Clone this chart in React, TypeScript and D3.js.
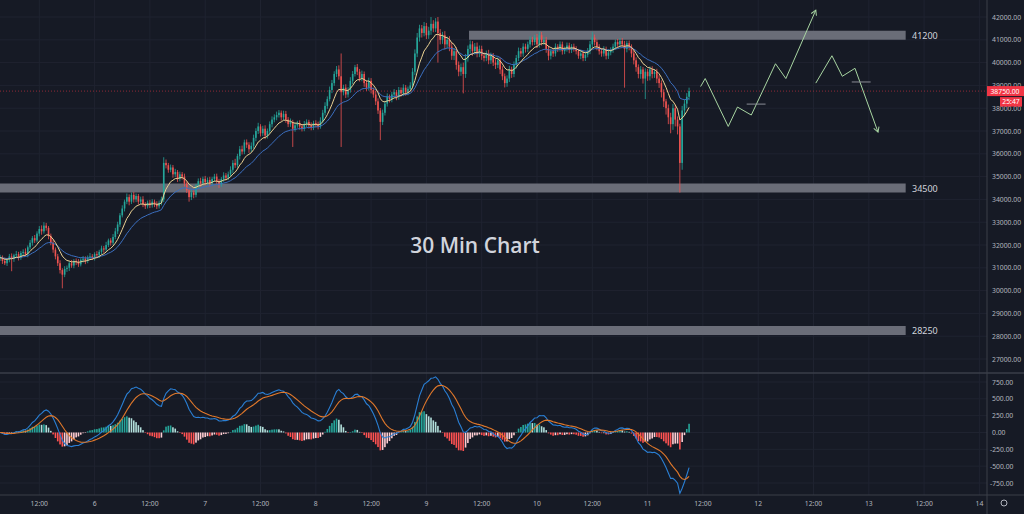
import * as d3 from 'd3';

// 30 min candles, first one at 5 Jan 03:30 UTC; open = previous close
const firstOpen = 31400;
const closes = [
  31450, 31300, 31200, 31350, 31500, 31400, 31550, 31600, 31450, 31650,
  31700, 31600, 31900, 32100, 32300, 32200, 32500, 32700, 32600, 32850,
  32750, 32400, 32100, 31800, 31500, 31200, 30900, 30700, 30950, 31000,
  31200, 31100, 31300, 31250, 31150, 31350, 31400, 31300, 31450, 31500,
  31450, 31600, 31550, 31700, 31850, 31800, 32000, 32200, 32100, 32350,
  32600, 32900, 33300, 33600, 33900, 34100, 33900, 34200, 34000, 34150,
  33900, 34000, 33800, 33700, 33850, 33750, 33900, 33800, 33700, 33850,
  34000, 35600, 35500, 35300, 35400, 35100, 35200, 34900, 35100, 35000,
  34700, 34400, 34100, 34300, 34200, 34600, 34800, 34700, 34900, 34750,
  34850, 34700, 34900, 35000, 34800, 34650, 34900, 35050, 34950, 35100,
  35300, 35600, 35500, 35900, 36200, 36100, 36500, 36400, 36200, 36350,
  36700, 37000, 37200, 36900, 37100, 36800, 37000, 37300, 37500, 37600,
  37700, 37800, 37600, 37750, 37500, 37300, 37400, 37100, 37250, 37350,
  37200, 37100, 37300, 37400, 37250, 37150, 37350, 37300, 37200, 37450,
  37800, 38100, 38400, 38800, 39100, 39500, 39700, 39400, 38700, 38900,
  38600, 38800, 39200, 39500, 39800, 39600, 39300, 39500, 39100, 38900,
  39200, 38800, 38600, 38300, 37900, 37400, 37800, 38200, 38500, 38400,
  38600, 38700, 38500, 38800, 38650, 38900, 38700, 38850, 39000, 39600,
  40400, 41100, 41500, 41300, 41600, 41200, 41400, 41700, 41500, 41800,
  41300, 41000, 41200, 40800, 41000, 40700, 40300, 40500, 39900, 39600,
  39800, 39500, 40200, 40600, 40800, 40500, 40700, 40400, 40600, 40300,
  40200, 40400, 40100, 40300, 40000, 39900, 40100, 39700, 39400, 39100,
  39300, 39700, 39500, 39900, 40200, 40500, 40400, 40700, 40600, 40800,
  41000, 40900, 41100, 40800, 41200, 40900, 41000, 40600, 40300, 40500,
  40400, 40700, 40600, 40800, 40500, 40600, 40750, 40550, 40700, 40600,
  40500, 40300, 40400, 40200, 40350, 40500, 40800, 41100, 40900, 40700,
  40500, 40400, 40600, 40300, 40450, 40550, 40700, 40900, 40800, 40950,
  40800, 40600, 40850, 40700, 40400, 40100, 39800, 39500, 39700, 39300,
  39600, 39400, 39700, 39500, 39600, 39300, 39100, 38700, 38300, 38000,
  37600, 37300, 38000, 37500, 37200, 35600, 37900, 38200, 38500, 38750,
];
// wick length above / below the body
const wickUp = [
  120, 90, 150, 80, 110, 130, 70, 140, 100, 90,
  110, 150, 80, 120, 90, 140, 100, 130, 160, 150,
  120, 80, 100, 150, 90, 110, 130, 80, 120, 100,
  90, 140, 80, 110, 130, 70, 120, 100, 90, 150,
  100, 80, 130, 90, 120, 110, 140, 80, 100, 130,
  150, 120, 100, 140, 90, 160, 120, 100, 130, 110,
  90, 120, 140, 80, 100, 130, 110, 90, 120, 100,
  120, 250, 150, 100, 130, 110, 140, 90, 120, 100,
  130, 90, 110, 140, 100, 80, 120, 150, 100, 130,
  110, 140, 90, 120, 130, 100, 80, 140, 110, 120,
  150, 120, 180, 100, 140, 160, 120, 130, 110, 150,
  140, 120, 160, 100, 130, 150, 110, 120, 140, 130,
  150, 120, 100, 140, 130, 110, 150, 90, 120, 100,
  120, 100, 140, 110, 90, 130, 100, 120, 110, 150,
  130, 160, 120, 150, 140, 120, 150, 180, 1000, 130,
  150, 120, 160, 130, 100, 140, 120, 150, 110, 130,
  140, 120, 100, 150, 130, 110, 140, 120, 150, 100,
  120, 140, 100, 130, 110, 150, 120, 100, 140, 160,
  180, 200, 160, 150, 180, 140, 170, 300, 160, 150,
  200, 170, 150, 180, 140, 160, 180, 140, 170, 150,
  160, 200, 180, 150, 170, 140, 160, 180, 150, 140,
  150, 130, 160, 140, 120, 150, 130, 110, 140, 120,
  140, 160, 120, 150, 130, 160, 140, 150, 130, 120,
  150, 130, 120, 160, 150, 140, 120, 130, 150, 110,
  120, 140, 110, 130, 120, 100, 130, 120, 110, 130,
  120, 100, 130, 110, 120, 140, 150, 250, 130, 120,
  110, 130, 120, 100, 140, 120, 130, 110, 140, 130,
  130, 150, 110, 120, 100, 140, 130, 120, 150, 110,
  150, 120, 130, 140, 110, 130, 150, 120, 130, 110,
  160, 200, 180, 150, 140, 120, 200, 180, 160, 150,
];
const wickDown = [
  100, 130, 80, 120, 110, 550, 140, 110, 130, 100,
  120, 90, 140, 100, 130, 110, 90, 120, 150, 100,
  120, 150, 110, 140, 130, 120, 150, 600, 110, 130,
  140, 100, 120, 130, 110, 90, 120, 140, 100, 110,
  110, 130, 90, 120, 100, 140, 110, 90, 130, 100,
  100, 120, 110, 90, 130, 110, 160, 100, 140, 120,
  130, 110, 140, 120, 100, 130, 110, 140, 120, 100,
  110, 120, 140, 130, 110, 150, 120, 140, 110, 130,
  140, 120, 200, 130, 150, 110, 120, 140, 100, 130,
  120, 140, 110, 130, 120, 150, 100, 130, 120, 110,
  100, 140, 120, 110, 150, 130, 120, 140, 160, 130,
  120, 150, 130, 140, 120, 160, 130, 110, 140, 120,
  130, 110, 150, 120, 140, 130, 120, 800, 130, 110,
  140, 120, 110, 130, 150, 120, 110, 140, 130, 100,
  110, 120, 130, 100, 140, 120, 130, 150, 2400, 140,
  150, 130, 120, 140, 110, 150, 130, 120, 160, 140,
  130, 150, 140, 160, 150, 800, 140, 120, 130, 150,
  140, 120, 150, 130, 140, 120, 150, 130, 120, 140,
  150, 160, 180, 200, 150, 170, 160, 180, 170, 160,
  1300, 200, 180, 220, 170, 200, 180, 190, 210, 200,
  180, 850, 170, 160, 180, 200, 150, 170, 160, 180,
  150, 140, 170, 160, 150, 180, 140, 200, 170, 190,
  160, 150, 170, 140, 160, 130, 150, 140, 160, 130,
  140, 150, 130, 160, 140, 150, 130, 170, 200, 160,
  150, 130, 140, 120, 150, 130, 120, 140, 130, 120,
  140, 130, 150, 140, 130, 120, 130, 140, 150, 160,
  150, 140, 130, 160, 140, 130, 120, 140, 130, 120,
  140, 1700, 150, 160, 170, 180, 200, 190, 210, 220,
  900, 200, 180, 190, 170, 200, 210, 230, 250, 280,
  300, 400, 250, 300, 350, 1300, 300, 250, 200, 150,
];

const priceTicks = d3.range(27000, 42001, 1000);
const macdTicks = [-750, -500, -250, 0, 250, 500, 750];
// horizontal levels, drawn from the given time to the right
const zones = [
  { price: 41200, from: Date.UTC(2021, 0, 9, 9, 15) },
  { price: 34500, from: Date.UTC(2021, 0, 4, 20) },
  { price: 28250, from: Date.UTC(2021, 0, 4, 20) },
];
const zoneEnd = Date.UTC(2021, 0, 13, 8, 0);
const lastPrice = 38750;
const countdown = '25:47';
// drawn forecast: [hours after 11 Jan 00:00, price]
const forecastA: [number, number][] = [
  [11.5, 38950], [12.5, 39300], [17.5, 37200], [19.5, 38050], [22.5, 37700],
  [27.75, 39950], [30, 39300], [36.5, 42300],
];
const forecastB: [number, number][] = [
  [36.5, 39100], [40, 40300], [42.25, 39400], [45, 39750], [50, 36950],
];
const forecastMarks: [number, number, number][] = [
  [21.5, 25.6, 38180],
  [44.3, 48.4, 39150],
];

const W = 1024;
const H = 514;
const AXIS_X = 987;
const PANE_SPLIT = 373;
const TIME_AXIS_Y = 495;
const HOUR = 3600 * 1000;
const t0 = Date.UTC(2021, 0, 5, 3, 30);
const day11 = Date.UTC(2021, 0, 11);

const x = d3.scaleUtc()
  .domain([new Date(Date.UTC(2021, 0, 5)), new Date(Date.UTC(2021, 0, 14))])
  .range([-16, 979.4]);
const y = d3.scaleLinear().domain([27000, 42000]).range([359, 17]);
const ym = d3.scaleLinear().domain([-750, 750]).range([483, 382]);

function ema(values: number[], n: number) {
  const k = 2 / (n + 1);
  const out: number[] = [];
  values.forEach((v, i) => out.push(i === 0 ? v : v * k + out[i - 1] * (1 - k)));
  return out;
}

const candles = closes.map((c, i) => {
  const o = i === 0 ? firstOpen : closes[i - 1];
  return {
    t: new Date(t0 + i * HOUR / 2),
    o, c,
    h: Math.max(o, c) + wickUp[i],
    l: Math.min(o, c) - wickDown[i],
  };
});

const emaFast = ema(closes, 9);
const emaSlow = ema(closes, 21);
const e12 = ema(closes, 12);
const e26 = ema(closes, 26);
const macd = e12.map((v, i) => v - e26[i]);
const signal = ema(macd, 9);
const hist = macd.map((v, i) => v - signal[i]);

const hColor = (i: number) => {
  const v = hist[i];
  const prev = i > 0 ? hist[i - 1] : 0;
  if (v >= 0) return v >= prev ? '#26a69a' : '#b2dfdb';
  return v <= prev ? '#ff5252' : '#ffcdd2';
};

const timeTicks = d3.utcHour.every(12)!.range(
  new Date(Date.UTC(2021, 0, 5, 12)),
  new Date(Date.UTC(2021, 0, 14, 1)),
);
const fmtTick = (d: Date) => (d.getUTCHours() === 0 ? d3.utcFormat('%-d')(d) : '12:00');

const atHours = (h: number) => new Date(day11 + h * HOUR);
const fLine = d3.line<[number, number]>()
  .x((d) => x(atHours(d[0])))
  .y((d) => y(d[1]));

const priceLine = d3.line<number>()
  .x((_, i) => x(candles[i].t))
  .y((d) => y(d));
const macdLine = d3.line<number>()
  .x((_, i) => x(candles[i].t))
  .y((d) => ym(d));

const axisFont = '"Noto Sans", sans-serif';
const BODY = 1.6;

export default function App() {
  return (
    <svg width={W} height={H} style={{ position: 'absolute', left: 0, top: 0, display: 'block' }}>
      <defs>
        <clipPath id="pricePane"><rect x={0} y={0} width={AXIS_X} height={PANE_SPLIT - 1} /></clipPath>
        <clipPath id="macdPane"><rect x={0} y={PANE_SPLIT + 1} width={AXIS_X} height={TIME_AXIS_Y - PANE_SPLIT - 1} /></clipPath>
        <marker id="arrow" viewBox="0 0 10 10" refX="8" refY="5" markerWidth="7" markerHeight="7" orient="auto">
          <path d="M1,1 L8,5 L1,9" fill="none" stroke="#a8d5a2" strokeWidth={1.4} />
        </marker>
      </defs>
      <rect width={W} height={H} fill="#161a25" />

      {/* grid */}
      {timeTicks.map((t) => (
        <line key={+t} x1={x(t)} x2={x(t)} y1={0} y2={TIME_AXIS_Y} stroke="#1f2330" />
      ))}
      {priceTicks.map((p) => (
        <line key={p} x1={0} x2={AXIS_X} y1={y(p)} y2={y(p)} stroke="#1f2330" />
      ))}
      {macdTicks.map((m) => (
        <line key={m} x1={0} x2={AXIS_X} y1={ym(m)} y2={ym(m)} stroke="#1f2330" />
      ))}

      <g clipPath="url(#pricePane)">
        {/* support / resistance zones */}
        {zones.map((z) => (
          <rect key={z.price} x={x(new Date(z.from))} y={y(z.price) - 4.5}
            width={x(new Date(zoneEnd)) - x(new Date(z.from))} height={9} fill="#6a6d78" />
        ))}
        <text x={475} y={253} textAnchor="middle" fill="#d1d4dc" fontFamily='"Open Sans", sans-serif'
          fontWeight={600} fontSize={21}>30 Min Chart</text>

        {/* candles */}
        {candles.map((d, i) => {
          const up = d.c >= d.o;
          const col = up ? '#26a69a' : '#ef5350';
          const cx = x(d.t);
          const top = y(Math.max(d.o, d.c));
          return (
            <g key={i}>
              <line x1={cx} x2={cx} y1={y(d.h)} y2={y(d.l)} stroke={col} strokeWidth={0.8} />
              <rect x={cx - BODY / 2} y={top} width={BODY}
                height={Math.max(0.8, y(Math.min(d.o, d.c)) - top)} fill={col} />
            </g>
          );
        })}
        <path d={priceLine(emaSlow) || ''} fill="none" stroke="#3b6fc0" strokeWidth={1} />
        <path d={priceLine(emaFast) || ''} fill="none" stroke="#ecd394" strokeWidth={1} />

        {/* last price line */}
        <line x1={0} x2={AXIS_X} y1={y(lastPrice)} y2={y(lastPrice)} stroke="#f23645"
          strokeOpacity={0.55} strokeDasharray="1,2" />

        {/* forecast drawing */}
        <path d={fLine(forecastA) || ''} fill="none" stroke="#a8d5a2" strokeWidth={1} markerEnd="url(#arrow)" />
        <path d={fLine(forecastB) || ''} fill="none" stroke="#a8d5a2" strokeWidth={1} markerEnd="url(#arrow)" />
        {forecastMarks.map((m, i) => (
          <line key={i} x1={x(atHours(m[0]))} x2={x(atHours(m[1]))} y1={y(m[2])} y2={y(m[2])}
            stroke="#8a8d96" strokeWidth={1} />
        ))}
      </g>

      {zones.map((z) => (
        <text key={z.price} x={912} y={y(z.price) + 3.5} fill="#d1d4dc" fontFamily={axisFont} fontSize={9}>
          {z.price}
        </text>
      ))}

      {/* MACD pane */}
      <g clipPath="url(#macdPane)">
        {hist.map((v, i) => (
          <rect key={i} x={x(candles[i].t) - BODY / 2} y={Math.min(ym(v), ym(0))} width={BODY}
            height={Math.max(0.5, Math.abs(ym(v) - ym(0)))} fill={hColor(i)} />
        ))}
        <path d={macdLine(macd) || ''} fill="none" stroke="#2a7fd4" strokeWidth={1.1} />
        <path d={macdLine(signal) || ''} fill="none" stroke="#e0782b" strokeWidth={1.1} />
      </g>

      {/* pane borders */}
      <line x1={0} x2={W} y1={PANE_SPLIT} y2={PANE_SPLIT} stroke="#3a3e49" strokeWidth={1.5} />
      <line x1={0} x2={W} y1={TIME_AXIS_Y} y2={TIME_AXIS_Y} stroke="#3a3e49" />
      <line x1={AXIS_X} x2={AXIS_X} y1={0} y2={H} stroke="#3a3e49" />

      {/* price axis */}
      {priceTicks.map((p) => (
        <text key={p} x={992} y={y(p) + 2.5} fill="#b2b5be" fontFamily={axisFont} fontSize={6.8}>
          {p.toFixed(2)}
        </text>
      ))}
      {macdTicks.map((m) => (
        <text key={m} x={m < 0 ? 990 : 992} y={ym(m) + 2.5} fill="#b2b5be" fontFamily={axisFont} fontSize={6.8}>
          {m.toFixed(2)}
        </text>
      ))}
      <rect x={AXIS_X} y={y(lastPrice) - 5} width={W - AXIS_X} height={10} fill="#f23645" />
      <text x={1005} y={y(lastPrice) + 2.5} textAnchor="middle" fill="#fff" fontFamily={axisFont} fontSize={6.8}>
        {lastPrice.toFixed(2)}
      </text>
      <rect x={1000} y={y(lastPrice) + 6} width={22} height={9.5} fill="#f23645" />
      <text x={1011} y={y(lastPrice) + 13.3} textAnchor="middle" fill="#fff" fontFamily={axisFont} fontSize={6.8}>
        {countdown}
      </text>

      {/* time axis */}
      {timeTicks.map((t) => (
        <text key={+t} x={x(t)} y={506} textAnchor="middle" fill="#b2b5be" fontFamily={axisFont} fontSize={6.8}>
          {fmtTick(t)}
        </text>
      ))}
      <circle cx={1004} cy={503} r={3} fill="none" stroke="#b2b5be" strokeWidth={1} />
    </svg>
  );
}
